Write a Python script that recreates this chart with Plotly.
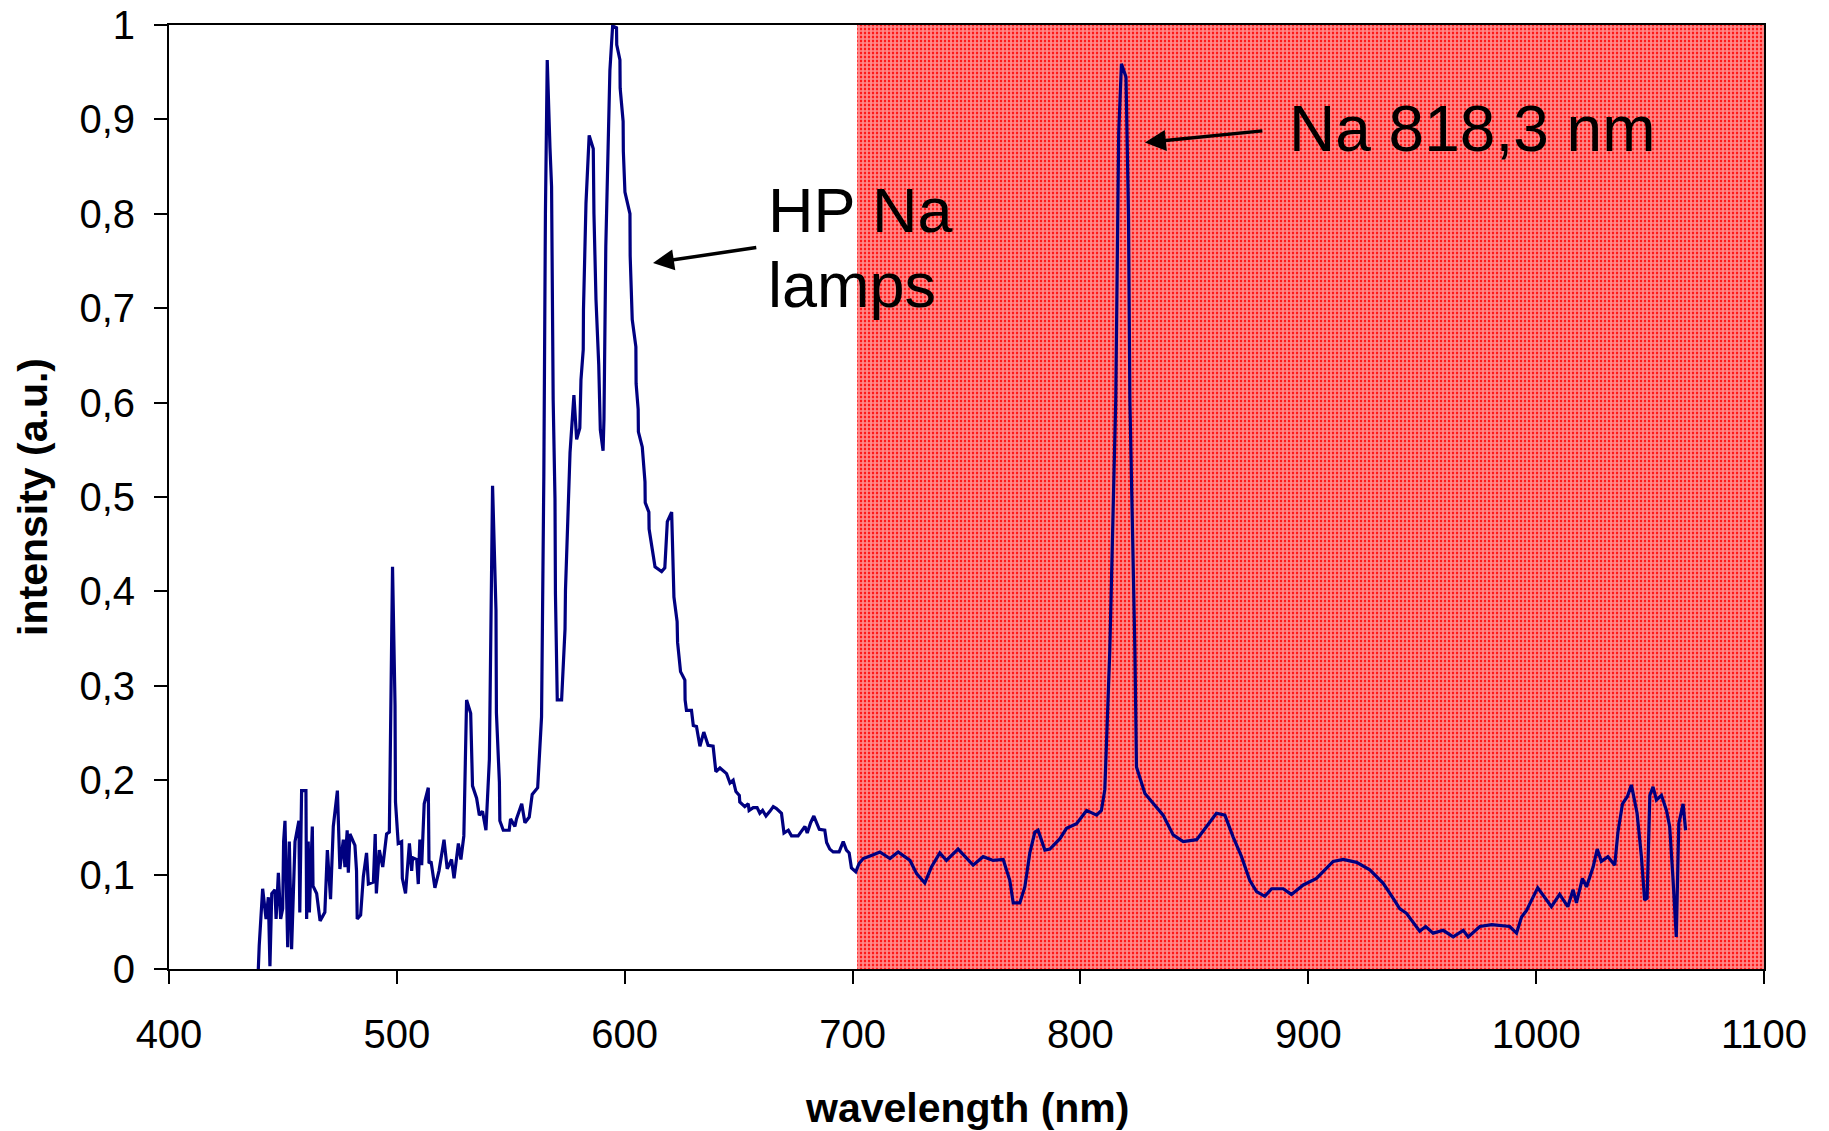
import plotly.graph_objects as go

# ---------------- data ----------------
wavelength_nm = [
    439.2, 439.6, 441.1, 442.6, 443.6, 444.3, 445.1, 446.5, 447.0, 448.0,
    449.0, 449.9, 450.3, 450.9, 452.1, 452.8, 453.8, 455.3, 457.0, 457.4,
    458.2, 460.1, 460.4, 461.1, 461.6, 462.9, 463.2, 464.8, 466.3, 468.4,
    469.5, 470.9, 472.1, 473.9, 475.0, 476.5, 477.2, 478.2, 478.7, 479.4,
    481.6, 482.3, 482.6, 484.1, 485.3, 486.7, 487.5, 489.7, 490.5, 491.0,
    492.3, 493.8, 495.5, 496.7, 498.1, 499.2, 499.4, 500.6, 502.1, 502.4,
    503.8, 505.5, 506.5, 506.9, 508.7, 509.4, 510.1, 510.9, 512.0, 513.8,
    514.1, 515.0, 516.7, 518.5, 520.7, 522.1, 524.0, 525.1, 527.0, 528.1,
    529.4, 530.6, 532.4, 533.2, 535.0, 536.2, 537.6, 539.1, 540.6, 542.0,
    543.5, 543.7, 545.0, 545.2, 546.7, 549.3, 549.9, 551.8, 552.5, 554.8,
    556.2, 558.1, 559.4, 561.8, 563.5, 564.5, 565.2, 566.0, 567.2, 567.9,
    568.6, 569.4, 569.6, 570.4, 572.3, 573.8, 574.0, 576.0, 577.7, 578.9,
    580.3, 580.8, 581.8, 581.9, 583.0, 584.4, 586.2, 586.5, 587.4, 588.6,
    589.3, 590.5, 590.9, 591.7, 593.5, 594.7, 596.4, 596.5, 597.9, 598.0,
    599.3, 599.4, 600.1, 602.3, 602.4, 603.3, 604.9, 605.0, 605.9, 606.0,
    607.7, 608.9, 609.0, 610.6, 610.7, 612.5, 613.3, 616.2, 617.6, 618.7,
    620.6, 621.6, 623.0, 623.2, 624.5, 626.4, 626.5, 627.1, 629.3, 630.1,
    631.5, 633.0, 634.7, 636.6, 638.8, 640.0, 641.8, 644.7, 646.2, 647.6,
    648.8, 650.3, 650.5, 652.7, 654.2, 654.6, 656.4, 658.1, 659.3, 660.5,
    662.0, 663.7, 665.2, 666.6, 668.8, 669.9, 671.8, 673.2, 676.1, 677.6,
    679.1, 680.1, 681.6, 683.0, 684.5, 685.4, 687.8, 688.6, 690.0, 691.5,
    694.1, 695.9, 697.3, 698.5, 699.5, 701.4, 702.9, 704.7, 709.1, 712.0,
    716.4, 720.0, 725.2, 728.1, 731.7, 734.6, 738.3, 741.2, 746.3, 750.0,
    752.9, 757.3, 761.7, 766.1, 769.0, 770.5, 773.4, 775.6, 777.8, 780.0,
    781.4, 784.4, 786.6, 791.0, 793.9, 798.3, 802.7, 807.1, 809.2, 810.7,
    811.4, 812.9, 815.5, 816.8, 818.0, 820.0, 821.1, 821.7, 823.9, 824.6,
    828.3, 832.7, 836.3, 840.7, 845.1, 851.0, 855.3, 859.7, 863.4, 867.0,
    870.7, 874.3, 877.3, 880.9, 883.9, 889.0, 892.6, 897.8, 903.6, 908.0,
    910.9, 915.3, 921.2, 927.0, 932.8, 937.2, 940.1, 943.1, 946.0, 948.9,
    951.5, 954.8, 959.2, 963.6, 968.0, 970.2, 975.3, 980.5, 988.4, 991.4,
    993.6, 995.8, 998.0, 1000.7, 1006.7, 1010.3, 1013.9, 1016.2, 1017.7, 1020.3,
    1022.1, 1025.0, 1026.8, 1028.6, 1031.5, 1034.5, 1035.9, 1037.9, 1040.1, 1041.8,
    1044.3, 1046.2, 1047.6, 1048.7, 1049.9, 1051.3, 1052.8, 1055.0, 1057.2, 1058.6,
    1060.0, 1061.5, 1062.6, 1064.5, 1065.6,
]

intensity = [
    0.000, 0.025, 0.085, 0.053, 0.076, 0.003, 0.080, 0.084, 0.053, 0.102,
    0.053, 0.064, 0.135, 0.157, 0.023, 0.135, 0.021, 0.135, 0.157, 0.060,
    0.189, 0.189, 0.053, 0.135, 0.060, 0.151, 0.088, 0.080, 0.051, 0.060,
    0.126, 0.074, 0.151, 0.189, 0.106, 0.137, 0.108, 0.147, 0.102, 0.143,
    0.131, 0.104, 0.053, 0.057, 0.098, 0.123, 0.090, 0.092, 0.143, 0.080,
    0.126, 0.108, 0.143, 0.145, 0.426, 0.279, 0.177, 0.133, 0.135, 0.096,
    0.080, 0.133, 0.104, 0.118, 0.116, 0.090, 0.137, 0.110, 0.175, 0.192,
    0.112, 0.114, 0.086, 0.104, 0.137, 0.106, 0.116, 0.096, 0.133, 0.116,
    0.141, 0.285, 0.271, 0.194, 0.181, 0.163, 0.167, 0.147, 0.222, 0.512,
    0.380, 0.271, 0.198, 0.157, 0.147, 0.147, 0.159, 0.151, 0.159, 0.175,
    0.155, 0.161, 0.185, 0.192, 0.267, 0.522, 0.800, 0.963, 0.870, 0.829,
    0.603, 0.498, 0.397, 0.285, 0.285, 0.360, 0.401, 0.547, 0.608, 0.561,
    0.573, 0.624, 0.656, 0.698, 0.811, 0.883, 0.869, 0.800, 0.709, 0.640,
    0.571, 0.549, 0.583, 0.765, 0.952, 0.999, 0.997, 0.979, 0.963, 0.933,
    0.898, 0.866, 0.823, 0.800, 0.755, 0.688, 0.659, 0.620, 0.593, 0.569,
    0.553, 0.516, 0.494, 0.484, 0.466, 0.441, 0.426, 0.421, 0.425, 0.474,
    0.484, 0.394, 0.368, 0.346, 0.315, 0.306, 0.285, 0.274, 0.274, 0.258,
    0.257, 0.236, 0.251, 0.237, 0.236, 0.209, 0.213, 0.207, 0.197, 0.200,
    0.188, 0.184, 0.177, 0.172, 0.175, 0.168, 0.171, 0.171, 0.165, 0.168,
    0.162, 0.167, 0.172, 0.170, 0.165, 0.144, 0.147, 0.141, 0.141, 0.146,
    0.151, 0.144, 0.155, 0.162, 0.154, 0.148, 0.147, 0.134, 0.127, 0.124,
    0.124, 0.135, 0.126, 0.123, 0.107, 0.103, 0.112, 0.117, 0.121, 0.124,
    0.117, 0.124, 0.115, 0.101, 0.091, 0.108, 0.123, 0.115, 0.127, 0.117,
    0.110, 0.119, 0.115, 0.116, 0.094, 0.070, 0.070, 0.087, 0.123, 0.145,
    0.147, 0.126, 0.127, 0.138, 0.149, 0.154, 0.168, 0.163, 0.168, 0.190,
    0.232, 0.338, 0.603, 0.886, 0.959, 0.945, 0.797, 0.603, 0.338, 0.214,
    0.186, 0.174, 0.163, 0.142, 0.135, 0.137, 0.151, 0.165, 0.163, 0.140,
    0.119, 0.094, 0.082, 0.077, 0.085, 0.085, 0.079, 0.089, 0.096, 0.107,
    0.114, 0.116, 0.113, 0.105, 0.091, 0.075, 0.064, 0.059, 0.050, 0.040,
    0.045, 0.038, 0.041, 0.034, 0.041, 0.034, 0.045, 0.047, 0.045, 0.038,
    0.055, 0.062, 0.073, 0.086, 0.066, 0.079, 0.066, 0.084, 0.070, 0.096,
    0.087, 0.108, 0.127, 0.114, 0.119, 0.110, 0.145, 0.175, 0.183, 0.195,
    0.165, 0.119, 0.073, 0.075, 0.184, 0.193, 0.179, 0.184, 0.168, 0.151,
    0.098, 0.034, 0.154, 0.175, 0.147,
]

# shaded (hatched) spectral band
band_x = [702, 1100, 1100, 702, 702]
band_y = [0, 0, 1, 1, 0]

y_tick_vals = [0, 0.1, 0.2, 0.3, 0.4, 0.5, 0.6, 0.7, 0.8, 0.9, 1]
y_tick_text = ["0", "0,1", "0,2", "0,3", "0,4", "0,5", "0,6", "0,7", "0,8", "0,9", "1"]
x_tick_vals = [400, 500, 600, 700, 800, 900, 1000, 1100]

FONT = "Liberation Sans, Arial, sans-serif"

fig = go.Figure()

fig.add_trace(go.Scatter(
    x=band_x, y=band_y, mode="lines", fill="toself",
    line=dict(width=0, color="rgba(0,0,0,0)"),
    fillcolor="red",
    fillpattern=dict(shape="+", bgcolor="#ff1a1a", fgcolor="white",
                     size=4, solidity=0.68),
    hoverinfo="skip", showlegend=False,
))

fig.add_trace(go.Scatter(
    x=wavelength_nm, y=intensity, mode="lines",
    line=dict(color="#000080", width=3.2),
    showlegend=False,
))

fig.update_layout(
    width=1829, height=1131,
    margin=dict(l=169, r=65, t=25, b=162, autoexpand=False),
    paper_bgcolor="white", plot_bgcolor="white",
    font=dict(family=FONT, color="black"),
    showlegend=False,
)

fig.update_xaxes(
    range=[400, 1100], tickvals=x_tick_vals, automargin=False,
    ticks="outside", ticklen=13, tickwidth=1.5, tickcolor="black",
    showline=True, linecolor="black", linewidth=2, mirror=True,
    showgrid=False, zeroline=False, ticklabeloverflow="allow",
    tickfont=dict(size=40, family=FONT), ticklabelstandoff=16,
)
fig.update_yaxes(
    range=[0, 1], tickvals=y_tick_vals, ticktext=y_tick_text, automargin=False,
    ticks="outside", ticklen=13, tickwidth=1.5, tickcolor="black",
    showline=True, linecolor="black", linewidth=2, mirror=True,
    showgrid=False, zeroline=False, ticklabeloverflow="allow",
    tickfont=dict(size=40, family=FONT), ticklabelstandoff=11,
)

# axis titles
fig.add_annotation(text="<b>wavelength (nm)</b>", xref="paper", yref="paper",
                   x=0.5, y=-0.147, xanchor="center", yanchor="middle",
                   showarrow=False, font=dict(size=41, family=FONT))
fig.add_annotation(text="<b>intensity (a.u.)</b>", xref="paper", yref="paper",
                   x=-0.0853, y=0.5, xanchor="center", yanchor="middle",
                   textangle=-90, showarrow=False, font=dict(size=41, family=FONT))

# labels
fig.add_annotation(text="HP Na", x=662, y=0.804, xref="x", yref="y",
                   xanchor="left", yanchor="middle", showarrow=False,
                   font=dict(size=63, family=FONT))
fig.add_annotation(text="lamps", x=662, y=0.7246, xref="x", yref="y",
                   xanchor="left", yanchor="middle", showarrow=False,
                   font=dict(size=63, family=FONT))
fig.add_annotation(text="Na 818,3 nm", x=890.6, y=0.89, xref="x", yref="y",
                   xanchor="left", yanchor="middle", showarrow=False,
                   font=dict(size=64, family=FONT))

# arrows
fig.add_annotation(x=612.4, y=0.748, ax=658.4, ay=0.7645, xref="x", yref="y",
                   axref="x", ayref="y", text="", showarrow=True,
                   arrowhead=2, arrowsize=1.2, arrowwidth=3.5, arrowcolor="black")
fig.add_annotation(x=828.3, y=0.8755, ax=880.5, ay=0.888, xref="x", yref="y",
                   axref="x", ayref="y", text="", showarrow=True,
                   arrowhead=2, arrowsize=1.2, arrowwidth=3.5, arrowcolor="black")

# remove the default 8px page margin so the figure sits at the window origin
fig.write_html("out.html", config={"displayModeBar": False},
               post_script="document.body.style.margin='0';")
